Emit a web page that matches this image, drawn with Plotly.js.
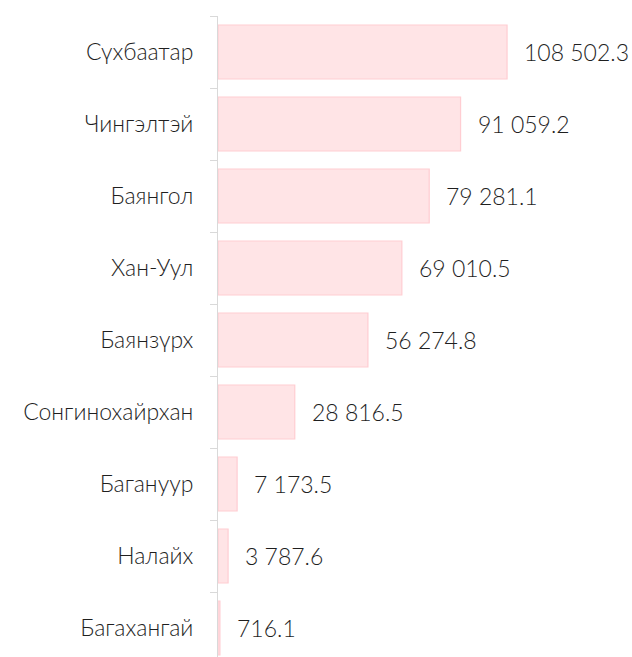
<!DOCTYPE html>
<html><head><meta charset="utf-8">
<script src="https://cdn.plot.ly/plotly-3.0.1.min.js"></script>
<style>html,body{margin:0;padding:0;overflow:hidden;background:#fff}#chart{width:632px;height:672px}</style>
</head><body><div id="chart"></div>
<script>
const districts = ["Сүхбаатар","Чингэлтэй","Баянгол","Хан-Уул","Баянзүрх","Сонгинохайрхан","Багануур","Налайх","Багахангай"];
const values = [108502.3, 91059.2, 79281.1, 69010.5, 56274.8, 28816.5, 7173.5, 3787.6, 716.1];

function fmt(v){
  const s = v.toFixed(1);
  const [i, d] = s.split(".");
  return i.replace(/\B(?=(\d{3})+(?!\d))/g, " ") + "." + d;
}
const fontFam = "Lato, 'Open Sans', sans-serif";
const annotations = values.map((v, k) => ({
  x: v, y: districts[k], xref: "x", yref: "y", text: fmt(v),
  showarrow: false, xanchor: "left", yanchor: "middle", xshift: 15,
  font: {family: fontFam, size: 23, color: "#1f1f1f", weight: 300}
}));

Plotly.newPlot("chart", [{
  type: "bar", orientation: "h", x: values, y: districts,
  marker: {color: "#FFE4E6", line: {color: "#FFCDD2", width: 1.2}},
  width: 0.75, hoverinfo: "none"
}], {
  width: 632, height: 672,
  margin: {l: 218, r: 12, t: 16, b: 8},
  paper_bgcolor: "#fff", plot_bgcolor: "#fff",
  showlegend: false,
  xaxis: {range: [0, 150900], visible: false, showgrid: false, zeroline: false, fixedrange: true},
  yaxis: {type: "category", autorange: "reversed", showline: true, linecolor: "#D9D9D9", linewidth: 1,
    ticks: "outside", tickson: "boundaries", ticklen: 7, tickcolor: "#D9D9D9",
    ticklabelstandoff: 19, showgrid: false, zeroline: false,
    tickfont: {family: fontFam, size: 23, color: "#1f1f1f", weight: 300}},
  annotations: annotations
}, {displayModeBar: false, staticPlot: true});
</script></body></html>
